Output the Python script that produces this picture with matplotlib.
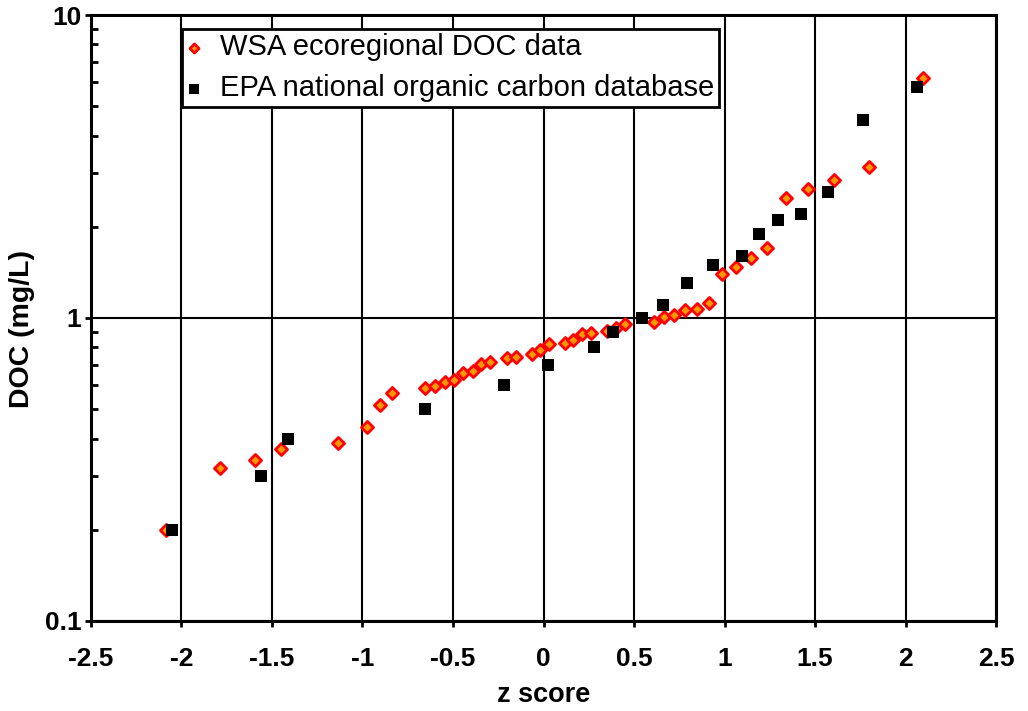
"""DOC quantile plot: WSA ecoregional data vs EPA national database."""

import matplotlib

matplotlib.use("Agg")
import matplotlib.pyplot as plt
from matplotlib.ticker import FixedLocator, LogLocator, NullFormatter

# WSA ecoregional DOC data (z score, DOC mg/L)
wsa_z = [
    -2.086, -1.787, -1.594, -1.450, -1.135, -0.975, -0.903, -0.837,
    -0.655, -0.599, -0.544, -0.494, -0.444, -0.390, -0.344, -0.296,
    -0.202, -0.152, -0.064, -0.019, 0.030, 0.119, 0.163, 0.213,
    0.262, 0.351, 0.400, 0.450, 0.610, 0.666, 0.722, 0.782,
    0.846, 0.914, 0.986, 1.062, 1.145, 1.235, 1.340, 1.462,
    1.606, 1.798, 2.097,
]
wsa_doc = [
    0.200, 0.320, 0.340, 0.370, 0.387, 0.437, 0.516, 0.566,
    0.587, 0.596, 0.615, 0.624, 0.659, 0.669, 0.705, 0.716,
    0.738, 0.744, 0.761, 0.784, 0.821, 0.827, 0.846, 0.886,
    0.892, 0.906, 0.927, 0.955, 0.970, 1.008, 1.023, 1.063,
    1.071, 1.121, 1.397, 1.473, 1.578, 1.702, 2.489, 2.665,
    2.852, 3.150, 6.196,
]

# EPA national organic carbon database
epa_z = [
    -2.053, -1.561, -1.411, -0.655, -0.218, 0.025, 0.278, 0.384,
    0.544, 0.660, 0.792, 0.935, 1.097, 1.191, 1.297, 1.421,
    1.572, 1.764, 2.064,
]
epa_doc = [
    0.2, 0.3, 0.4, 0.5, 0.6, 0.7, 0.8, 0.9,
    1.0, 1.1, 1.3, 1.5, 1.6, 1.9, 2.1, 2.2,
    2.6, 4.5, 5.8,
]

x_ticks = [-2.5, -2, -1.5, -1, -0.5, 0, 0.5, 1, 1.5, 2, 2.5]
x_tick_labels = ["-2.5", "-2", "-1.5", "-1", "-0.5", "0", "0.5", "1", "1.5", "2", "2.5"]
y_ticks = [0.1, 1, 10]
y_tick_labels = ["0.1", "1", "10"]

plt.rcParams["font.family"] = ["Liberation Sans", "DejaVu Sans"]

fig = plt.figure(figsize=(10.28, 7.11), dpi=100)
ax = fig.add_axes([0.0885, 0.1266, 0.8804, 0.8523])

wsa = ax.scatter(
    wsa_z, wsa_doc, marker="D", s=38, facecolor="#ff9900", edgecolor="#ff0000",
    linewidths=2.0, label="WSA ecoregional DOC data", zorder=3,
)
epa = ax.scatter(
    epa_z, epa_doc, marker="s", s=85, color="black", linewidths=0,
    label="EPA national organic carbon database", zorder=4,
)

ax.set_yscale("log")
ax.set_xlim(-2.5, 2.5)
ax.set_ylim(0.1, 10)

ax.xaxis.set_major_locator(FixedLocator(x_ticks))
ax.set_xticklabels(x_tick_labels)
ax.yaxis.set_major_locator(FixedLocator(y_ticks))
ax.set_yticklabels(y_tick_labels)
ax.yaxis.set_minor_locator(LogLocator(base=10, subs=range(2, 10)))
ax.yaxis.set_minor_formatter(NullFormatter())

ax.grid(True, which="major", color="black", linewidth=1.5)
ax.set_axisbelow(True)
for spine in ax.spines.values():
    spine.set_linewidth(2.2)

ax.tick_params(axis="x", which="major", direction="out", length=4, width=2,
               labelsize=19, pad=15)
ax.tick_params(axis="y", which="major", direction="out", length=4, width=2,
               labelsize=19, pad=3)
ax.tick_params(axis="y", which="minor", direction="in", length=5, width=2)
for label in ax.get_xticklabels() + ax.get_yticklabels():
    label.set_fontweight("bold")

ax.set_xlabel("z score", fontsize=19.5, fontweight="bold", labelpad=8)
ax.set_ylabel("DOC (mg/L)", fontsize=20.5, fontweight="bold")
ax.yaxis.set_label_coords(-0.062, 0.482)

leg = ax.legend(
    [wsa, epa], ["WSA ecoregional DOC data", "EPA national organic carbon database"],
    loc="upper left", bbox_to_anchor=(0.1006, 0.977), borderaxespad=0,
    fontsize=21, frameon=True, fancybox=False, framealpha=1, edgecolor="black",
    borderpad=0.15, handletextpad=0.6, labelspacing=0.45, handlelength=0.55,
    markerscale=0.75,
)
leg.get_frame().set_linewidth(2)

fig.savefig("out.png", dpi=100)
